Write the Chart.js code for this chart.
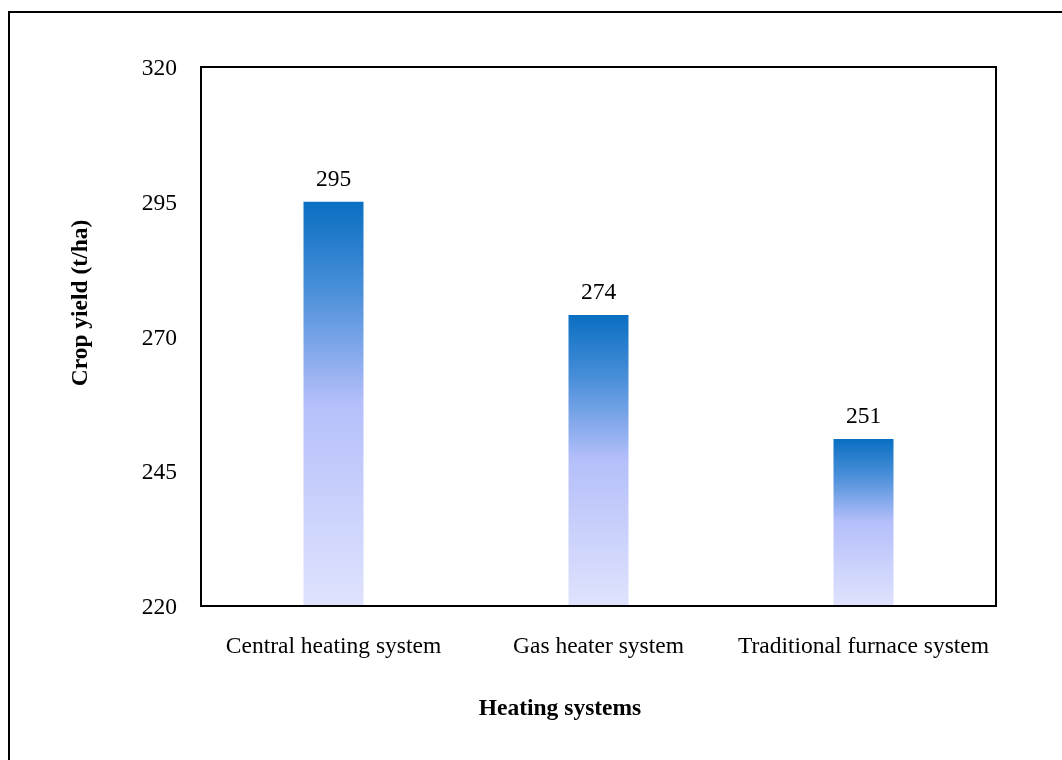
<!DOCTYPE html>
<html>
<head>
<meta charset="utf-8">
<title>Crop yield by heating system</title>
<script src="https://cdn.jsdelivr.net/npm/chart.js@4/dist/chart.umd.min.js"></script>
<style>
    html, body { margin: 0; padding: 0; background: #fff; }
    #wrap { width: 1062px; height: 760px; }
</style>
</head>
<body>
<div id="wrap"><canvas id="yield-chart"></canvas></div>
<script>
// Chart data
const heatingSystems = ['Central heating system', 'Gas heater system', 'Traditional furnace system'];
const cropYield = [295, 274, 251];
const yTicks = [220, 245, 270, 295, 320];

const FONT = "'Liberation Serif', 'Times New Roman', serif";
const FONT_SIZE = 23.5;
const Y_MIN = yTicks[0];
const Y_MAX = yTicks[yTicks.length - 1];

// Vertical gradient per bar: dark blue at the top fading to pale lavender
function barGradient(context) {
    const chart = context.chart;
    const { chartArea, scales } = chart;
    if (!chartArea) return '#b4befa';
    const top = scales.y.getPixelForValue(context.raw);
    const bottom = scales.y.getPixelForValue(Y_MIN);
    const g = chart.ctx.createLinearGradient(0, top, 0, bottom);
    g.addColorStop(0, '#0a6fc2');
    g.addColorStop(0.22, '#4a8fd9');
    g.addColorStop(0.5, '#b5bffa');
    g.addColorStop(1, '#dfe3fd');
    return g;
}

// Frame around the plot area, the outer page frame, value labels and axis titles
const decorations = {
    id: 'decorations',
    afterDatasetsDraw(chart) {
        const { ctx, chartArea } = chart;
        ctx.save();
        ctx.strokeStyle = '#000';
        ctx.lineWidth = 2;
        ctx.strokeRect(chartArea.left, chartArea.top, chartArea.right - chartArea.left, chartArea.bottom - chartArea.top);

        // outer frame (only left and top edges fall inside the canvas)
        ctx.beginPath();
        ctx.moveTo(9, chart.height + 5);
        ctx.lineTo(9, 12);
        ctx.lineTo(chart.width + 5, 12);
        ctx.stroke();

        // values above bars
        ctx.fillStyle = '#000';
        ctx.font = FONT_SIZE + 'px ' + FONT;
        ctx.textAlign = 'center';
        ctx.textBaseline = 'alphabetic';
        const meta = chart.getDatasetMeta(0);
        meta.data.forEach((bar, i) => {
            ctx.fillText(String(cropYield[i]), bar.x, bar.y - 16);
        });

        // axis titles
        ctx.font = 'bold ' + FONT_SIZE + 'px ' + FONT;
        ctx.fillText('Heating systems', 560, 715);
        ctx.translate(87, 303);
        ctx.rotate(-Math.PI / 2);
        ctx.fillText('Crop yield (t/ha)', 0, 0);
        ctx.restore();
    }
};

const ctx = document.getElementById('yield-chart').getContext('2d');
new Chart(ctx, {
    type: 'bar',
    data: {
        labels: heatingSystems,
        datasets: [{
            label: 'Crop yield (t/ha)',
            data: cropYield,
            backgroundColor: barGradient,
            borderWidth: 0,
            categoryPercentage: 1,
            barPercentage: 0.2264
        }]
    },
    options: {
        responsive: true,
        maintainAspectRatio: false,
        animation: false,
        layout: { padding: { top: 67, right: 66, bottom: 0, left: 0 } },
        plugins: {
            legend: { display: false },
            tooltip: { enabled: false }
        },
        scales: {
            x: {
                grid: { display: false, drawTicks: false },
                border: { display: false },
                ticks: {
                    color: '#000',
                    font: { family: FONT, size: FONT_SIZE },
                    padding: 27,
                    maxRotation: 0,
                    autoSkip: false
                },
                afterFit(scale) { scale.height = 154; }
            },
            y: {
                min: Y_MIN,
                max: Y_MAX,
                grid: { display: false, drawTicks: false },
                border: { display: false },
                afterBuildTicks(scale) { scale.ticks = yTicks.map(v => ({ value: v })); },
                ticks: {
                    color: '#000',
                    font: { family: FONT, size: FONT_SIZE },
                    padding: 24,
                    labelOffset: 2
                },
                afterFit(scale) { scale.width = 201; }
            }
        }
    },
    plugins: [decorations]
});
</script>
</body>
</html>
